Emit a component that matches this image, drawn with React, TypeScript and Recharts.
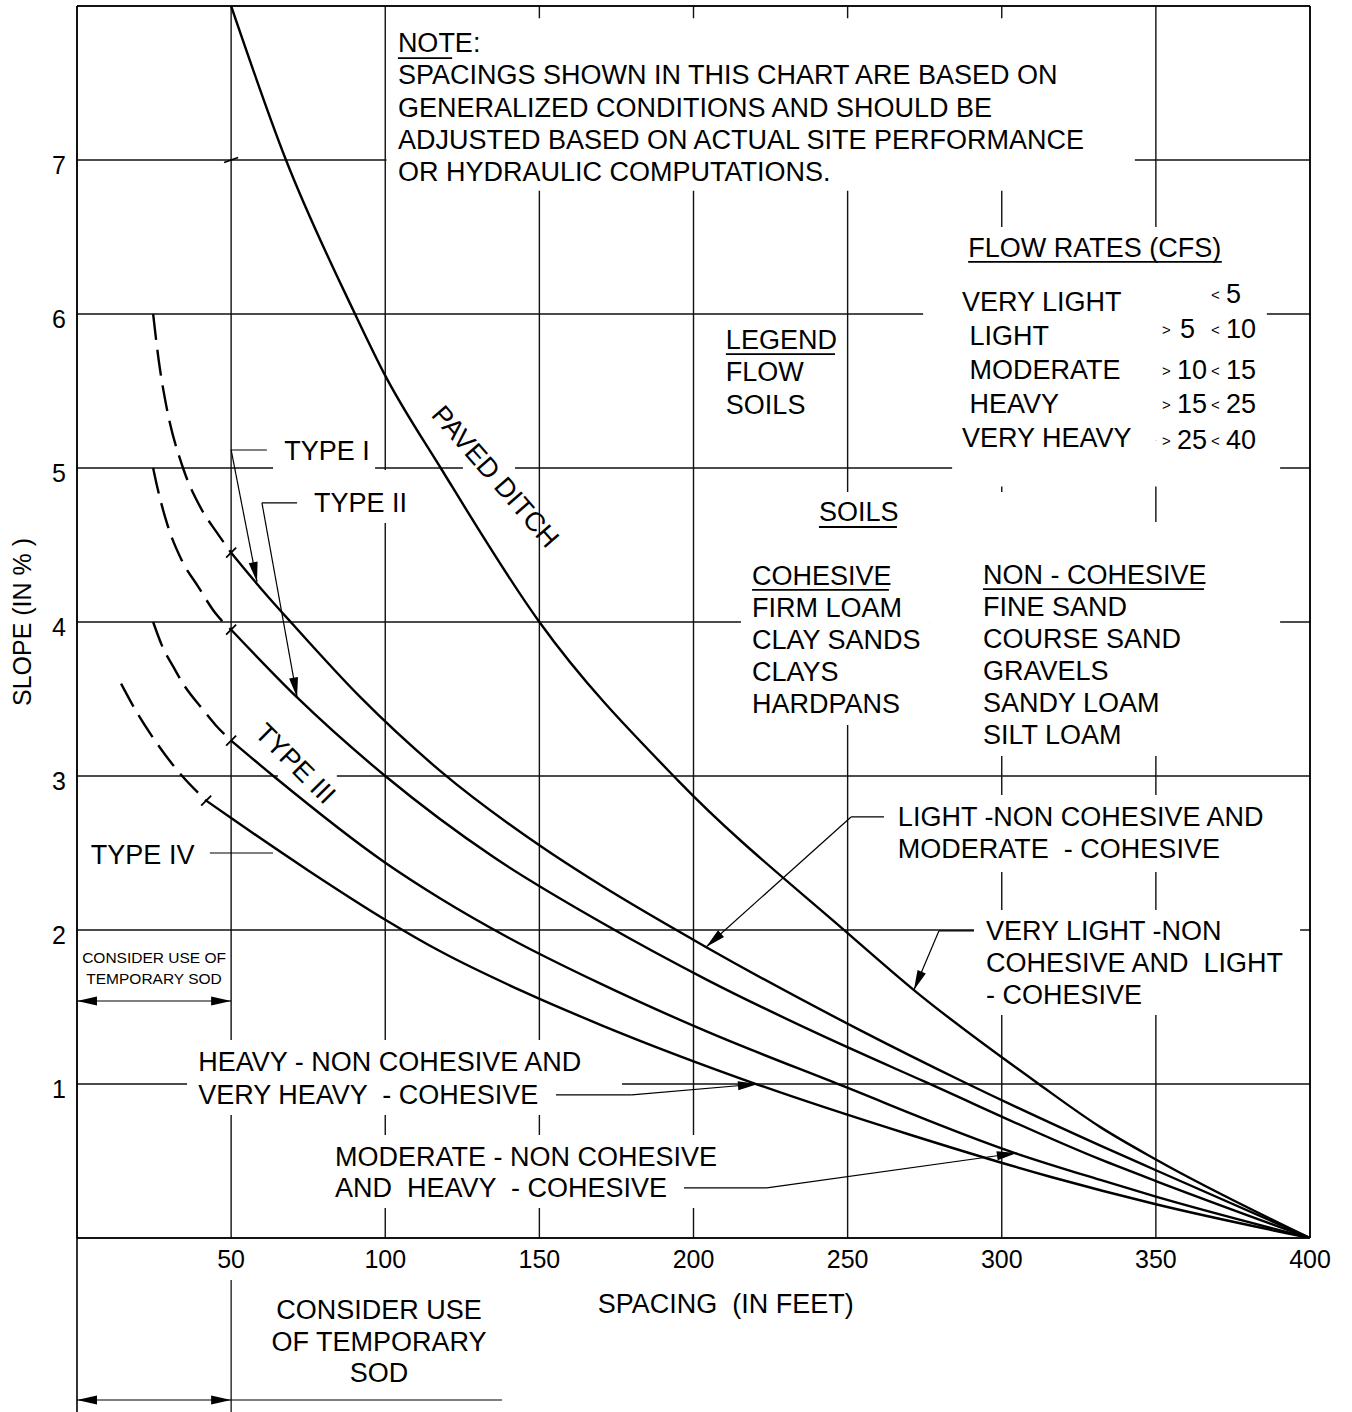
import React from 'react';
import {
  LineChart,
  Line,
  XAxis,
  YAxis,
  CartesianGrid,
  ReferenceArea,
  ReferenceLine,
  ReferenceDot,
} from 'recharts';

const FONT = '"Liberation Sans", Arial, Helvetica, sans-serif';

const X_TICKS = [50, 100, 150, 200, 250, 300, 350, 400];
const Y_TICKS = [1, 2, 3, 4, 5, 6, 7];

// curves: spacing (ft) vs slope (%)
const PAVED_DITCH = [
  { x: 50, y: 8.0 }, { x: 67.8, y: 7.0 }, { x: 90.2, y: 6.0 }, { x: 100, y: 5.6 },
  { x: 118, y: 5.0 }, { x: 150, y: 4.0 }, { x: 195, y: 2.97 }, { x: 250, y: 1.98 },
  { x: 271.5, y: 1.61 }, { x: 312, y: 1.0 }, { x: 332, y: 0.72 }, { x: 350, y: 0.51 },
  { x: 400, y: 0 },
];
const TYPE_I_DASH = [
  { x: 24.7, y: 6.0 }, { x: 26.5, y: 5.7 }, { x: 29, y: 5.4 }, { x: 34.4, y: 5.0 },
  { x: 39.9, y: 4.75 }, { x: 45.4, y: 4.58 }, { x: 50, y: 4.45 },
];
const TYPE_I = [
  { x: 50, y: 4.45 }, { x: 60, y: 4.21 }, { x: 70, y: 3.985 }, { x: 92, y: 3.51 },
  { x: 118, y: 3.03 }, { x: 150, y: 2.55 }, { x: 170, y: 2.29 }, { x: 204, y: 1.89 },
  { x: 254, y: 1.35 }, { x: 288, y: 1.01 }, { x: 332, y: 0.6 }, { x: 350, y: 0.44 },
  { x: 400, y: 0 },
];
const TYPE_II_DASH = [
  { x: 24.7, y: 5.0 }, { x: 26, y: 4.88 }, { x: 29.2, y: 4.64 }, { x: 34, y: 4.4 },
  { x: 39.3, y: 4.23 }, { x: 44.8, y: 4.06 }, { x: 50, y: 3.95 },
];
const TYPE_II = [
  { x: 50, y: 3.95 }, { x: 71.4, y: 3.51 }, { x: 100, y: 3.0 }, { x: 135, y: 2.475 },
  { x: 170, y: 2.05 }, { x: 205, y: 1.67 }, { x: 240, y: 1.33 }, { x: 275, y: 1.015 },
  { x: 332, y: 0.51 }, { x: 350, y: 0.37 }, { x: 400, y: 0 },
];
const TYPE_III_DASH = [
  { x: 24.7, y: 4.0 }, { x: 27.5, y: 3.85 }, { x: 31.5, y: 3.7 }, { x: 34.4, y: 3.6 },
  { x: 40.9, y: 3.43 }, { x: 45, y: 3.33 }, { x: 50, y: 3.23 },
];
const TYPE_III = [
  { x: 50, y: 3.23 }, { x: 64, y: 2.995 }, { x: 100, y: 2.437 }, { x: 118, y: 2.203 },
  { x: 140, y: 1.95 }, { x: 170, y: 1.65 }, { x: 205, y: 1.335 }, { x: 245, y: 1.015 },
  { x: 305, y: 0.547 }, { x: 332, y: 0.377 }, { x: 350, y: 0.269 }, { x: 400, y: 0 },
];
const TYPE_IV_DASH = [
  { x: 14.3, y: 3.6 }, { x: 19.5, y: 3.41 }, { x: 26, y: 3.21 }, { x: 32.4, y: 3.04 },
  { x: 41.9, y: 2.84 },
];
const TYPE_IV = [
  { x: 41.9, y: 2.84 }, { x: 50, y: 2.727 }, { x: 75, y: 2.387 }, { x: 100, y: 2.067 },
  { x: 118, y: 1.86 }, { x: 145, y: 1.598 }, { x: 170, y: 1.383 }, { x: 221, y: 0.995 },
  { x: 270, y: 0.672 }, { x: 316, y: 0.396 }, { x: 350, y: 0.219 }, { x: 400, y: 0 },
];

const NOTE_LINES = [
  'NOTE:',
  'SPACINGS SHOWN IN THIS CHART ARE BASED ON',
  'GENERALIZED CONDITIONS AND SHOULD BE',
  'ADJUSTED BASED ON ACTUAL SITE PERFORMANCE',
  'OR HYDRAULIC COMPUTATIONS.',
];
const FLOW_NAMES = ['VERY LIGHT', ' LIGHT', ' MODERATE', ' HEAVY', 'VERY HEAVY'];
const FLOW_LIMITS = [
  ['', '5'],
  ['5', '10'],
  ['10', '15'],
  ['15', '25'],
  ['25', '40'],
];
const COHESIVE = ['FIRM LOAM', 'CLAY SANDS', 'CLAYS', 'HARDPANS'];
const NON_COHESIVE = ['FINE SAND', 'COURSE SAND', 'GRAVELS', 'SANDY LOAM', 'SILT LOAM'];

const black = '#000';
const TXT = 27;

const XTick = (p: any) => (
  <text x={p.x} y={p.y + 30} textAnchor="middle" fontSize={25} fontFamily={FONT} fill={black}>
    {p.payload.value}
  </text>
);
const YTick = (p: any) => (
  <text x={p.x} y={p.y + 14} textAnchor="end" fontSize={25} fontFamily={FONT} fill={black}>
    {p.payload.value}
  </text>
);

const block =
  (lines: string[], opts: { size?: number; gap?: number; anchor?: string; rotate?: number; center?: boolean } = {}) =>
  (p: any) => {
    const { size = TXT, gap = 32.3, anchor = 'start', rotate = 0, center = false } = opts;
    return (
      <text
        x={p.cx}
        y={p.cy}
        fontSize={size}
        fontFamily={FONT}
        fill={black}
        textAnchor={anchor}
        style={{ whiteSpace: 'pre' }}
        transform={rotate ? `rotate(${rotate} ${p.cx} ${p.cy})` : undefined}
      >
        {lines.map((l, i) => (
          <tspan key={i} x={p.cx} dy={i === 0 ? (center ? size * 0.36 : 0) : gap}>
            {l}
          </tspan>
        ))}
      </text>
    );
  };

const flowLimits = (p: any) => {
  const cols = [0, 15, 49, 64];
  const rows = [0, 35, 76, 110, 146];
  return (
    <g fontFamily={FONT} fill={black}>
      {FLOW_LIMITS.map(([lo, hi], i) => (
        <g key={i}>
          {lo && (
            <text x={p.cx + cols[0]} y={p.cy + rows[i] - 3} fontSize={15}>
              {'>'}
            </text>
          )}
          {lo && (
            <text x={p.cx + cols[1] + (lo.length === 1 ? 3 : 0)} y={p.cy + rows[i]} fontSize={TXT}>
              {lo}
            </text>
          )}
          <text x={p.cx + cols[2]} y={p.cy + rows[i] - 3} fontSize={15}>
            {'<'}
          </text>
          <text x={p.cx + cols[3]} y={p.cy + rows[i]} fontSize={TXT}>
            {hi}
          </text>
        </g>
      ))}
    </g>
  );
};

const arrowHead = (tx: number, ty: number, fx: number, fy: number) => {
  const dx = tx - fx;
  const dy = ty - fy;
  const len = Math.hypot(dx, dy) || 1;
  const ux = dx / len;
  const uy = dy / len;
  const L = 20;
  const W = 4.5;
  const bx = tx - ux * L;
  const by = ty - uy * L;
  return (
    <polygon
      points={`${tx},${ty} ${bx - uy * W},${by + ux * W} ${bx + uy * W},${by - ux * W}`}
      fill={black}
    />
  );
};

const leader = (head: 'none' | 'end' | 'both', width = 1.2) => (p: any) => (
  <g>
    <line x1={p.x1} y1={p.y1} x2={p.x2} y2={p.y2} stroke={black} strokeWidth={width} />
    {head !== 'none' && arrowHead(p.x2, p.y2, p.x1, p.y1)}
    {head === 'both' && arrowHead(p.x1, p.y1, p.x2, p.y2)}
  </g>
);

const tick = (ax: number, ay: number) => (p: any) => (
  <line x1={p.cx - ax} y1={p.cy + ay} x2={p.cx + ax} y2={p.cy - ay} stroke={black} strokeWidth={1.8} />
);

const Mask = ({ x1, x2, y1, y2 }: any) => (
  <ReferenceArea x1={x1} x2={x2} y1={y1} y2={y2} fill="#fff" fillOpacity={1} stroke="none" ifOverflow="visible" />
);

const seg = (a: number[], b: number[], head: 'none' | 'end' | 'both' = 'none', width = 1.2) => (
  <ReferenceLine
    segment={[
      { x: a[0], y: a[1] },
      { x: b[0], y: b[1] },
    ]}
    ifOverflow="visible"
    shape={leader(head, width)}
  />
);

const dot = (x: number, y: number, shape: any) => (
  <ReferenceDot x={x} y={y} r={0} ifOverflow="visible" shape={shape} />
);

export default function App() {
  const curve = {
    type: 'monotone' as const,
    stroke: black,
    strokeWidth: 2.4,
    dot: false,
    activeDot: false,
    isAnimationActive: false,
    dataKey: 'y',
  };
  const dash = '26 10';
  return (
    <div style={{ position: 'absolute', left: 0, top: 0, width: 1352, height: 1412, background: '#fff' }}>
      <LineChart width={1352} height={1412} margin={{ top: 6, right: 42, bottom: 0, left: 0 }}>
        <CartesianGrid stroke="#111" strokeWidth={1.4} />
        <XAxis
          type="number"
          dataKey="x"
          domain={[0, 400]}
          ticks={X_TICKS}
          interval={0}
          allowDataOverflow
          height={174}
          tickSize={0}
          tickMargin={0}
          tickLine={false}
          axisLine={{ stroke: black, strokeWidth: 1.6 }}
          tick={XTick}
        />
        <YAxis
          type="number"
          domain={[0, 8]}
          ticks={Y_TICKS}
          interval={0}
          allowDataOverflow
          width={77}
          tickSize={0}
          tickMargin={11}
          tickLine={false}
          axisLine={{ stroke: black, strokeWidth: 1.6 }}
          tick={YTick}
        />

        {/* white boxes that break the grid behind the notes */}
        <Mask x1={100.4} x2={343.2} y1={6.8} y2={7.92} />
        <Mask x1={274.5} x2={386} y1={5.18} y2={6.565} />
        <Mask x1={283.9} x2={390.3} y1={4.88} y2={5.18} />
        <Mask x1={215.4} x2={276.7} y1={3.331} y2={4.844} />
        <Mask x1={276.7} x2={341.6} y1={3.13} y2={4.844} />
        <Mask x1={341.6} x2={390.3} y1={3.13} y2={4.649} />
        <Mask x1={63.6} x2={96.7} y1={4.974} y2={5.208} />
        <Mask x1={72.3} x2={108} y1={4.643} y2={4.987} />
        <Mask x1={125.2} x2={142.1} y1={4.968} y2={5.032} />
        <Mask x1={65.2} x2={84.3} y1={2.961} y2={3.026} />
        <Mask x1={35.7} x2={176.8} y1={0.799} y2={1.286} />
        <Mask x1={82.1} x2={208.6} y1={0.195} y2={0.669} />
        <Mask x1={263.7} x2={387} y1={2.377} y2={2.877} />
        <Mask x1={291} x2={396.8} y1={1.448} y2={2.13} />

        <Line {...curve} data={PAVED_DITCH} />
        <Line {...curve} data={TYPE_I_DASH} strokeDasharray={dash} />
        <Line {...curve} data={TYPE_I} />
        <Line {...curve} data={TYPE_II_DASH} strokeDasharray={dash} />
        <Line {...curve} data={TYPE_II} />
        <Line {...curve} data={TYPE_III_DASH} strokeDasharray={dash} />
        <Line {...curve} data={TYPE_III} />
        <Line {...curve} data={TYPE_IV_DASH} strokeDasharray={dash} />
        <Line {...curve} data={TYPE_IV} />

        {/* frame */}
        {seg([0, 8], [400, 8], 'none', 1.6)}
        {seg([400, 0], [400, 8], 'none', 1.6)}
        {seg([0, 0], [0, -1.13], 'none', 1.6)}
        {seg([50, -0.273], [50, -1.13], 'none', 1.2)}

        {/* underlines */}
        {seg([104.1, 7.662], [121.7, 7.662], 'none', 1.8)}
        {seg([289.1, 6.338], [371.4, 6.338], 'none', 1.8)}
        {seg([210.5, 5.74], [245.9, 5.74], 'none', 1.8)}
        {seg([240.7, 4.617], [266.0, 4.617], 'none', 1.8)}
        {seg([219.0, 4.208], [263.4, 4.208], 'none', 1.8)}
        {seg([293.9, 4.214], [365.6, 4.214], 'none', 1.8)}

        {/* leaders */}
        {seg([61.6, 5.117], [50, 5.117])}
        {seg([50, 5.117], [58.4, 4.26], 'end')}
        {seg([71.4, 4.773], [60.0, 4.773])}
        {seg([60.0, 4.773], [71.4, 3.51], 'end')}
        {seg([43.1, 2.5], [63.6, 2.5])}
        {seg([261.8, 2.734], [251.1, 2.734])}
        {seg([251.1, 2.734], [204.1, 1.89], 'end')}
        {seg([291.0, 1.994], [279.6, 1.994])}
        {seg([279.6, 1.994], [271.5, 1.61], 'end')}
        {seg([155.4, 0.929], [180.0, 0.929])}
        {seg([180.0, 0.929], [220.9, 1.0], 'end')}
        {seg([196.9, 0.325], [223.8, 0.325])}
        {seg([223.8, 0.325], [304.9, 0.552], 'end')}
        {seg([0, 1.539], [50, 1.539], 'both')}
        {seg([0, -1.052], [50, -1.052], 'both')}
        {seg([50, -1.052], [137.9, -1.052])}

        {/* curve change markers */}
        {dot(50, 7.0, tick(7, 2.5))}
        {dot(50, 4.45, tick(5, 5))}
        {dot(50, 3.95, tick(5, 5))}
        {dot(50, 3.23, tick(5, 5))}
        {dot(41.9, 2.84, tick(5, 5))}

        {/* texts */}
        {dot(104.1, 7.701, block(NOTE_LINES))}
        {dot(289.1, 6.37, block(['FLOW RATES (CFS)']))}
        {dot(287.1, 6.019, block(FLOW_NAMES, { gap: 34 }))}
        {dot(352.0, 6.071, flowLimits)}
        {dot(210.5, 5.773, block(['LEGEND', 'FLOW', 'SOILS'], { gap: 32.5 }))}
        {dot(240.7, 4.656, block(['SOILS']))}
        {dot(219.0, 4.24, block(['COHESIVE', ...COHESIVE], { gap: 32 }))}
        {dot(293.9, 4.247, block(['NON - COHESIVE', ...NON_COHESIVE], { gap: 32 }))}
        {dot(67.2, 5.052, block(['TYPE I']))}
        {dot(76.9, 4.714, block(['TYPE II']))}
        {dot(4.5, 2.429, block(['TYPE IV']))}
        {dot(71.0, 3.084, block(['TYPE III'], { anchor: 'middle', rotate: 45, center: true }))}
        {dot(135.9, 4.948, block(['PAVED DITCH'], { anchor: 'middle', rotate: 49, center: true }))}
        {dot(25.0, 1.786, block(['CONSIDER USE OF', 'TEMPORARY SOD'], { size: 15.5, gap: 21, anchor: 'middle' }))}
        {dot(266.3, 2.675, block(['LIGHT -NON COHESIVE AND', 'MODERATE  - COHESIVE'], { gap: 32 }))}
        {dot(294.9, 1.935, block(['VERY LIGHT -NON', 'COHESIVE AND  LIGHT', '- COHESIVE'], { gap: 32 }))}
        {dot(39.3, 1.084, block(['HEAVY - NON COHESIVE AND', 'VERY HEAVY  - COHESIVE'], { gap: 33 }))}
        {dot(83.7, 0.468, block(['MODERATE - NON COHESIVE', 'AND  HEAVY  - COHESIVE'], { gap: 31 }))}
        {dot(98.0, -0.526, block(['CONSIDER USE', 'OF TEMPORARY', 'SOD'], { gap: 31.5, anchor: 'middle' }))}
        {dot(210.5, -0.422, block(['SPACING  (IN FEET)'], { anchor: 'middle', center: true }))}
        {dot(-17.8, 4.0, block(['SLOPE (IN % )'], { size: 25, anchor: 'middle', rotate: -90, center: true }))}
      </LineChart>
    </div>
  );
}
